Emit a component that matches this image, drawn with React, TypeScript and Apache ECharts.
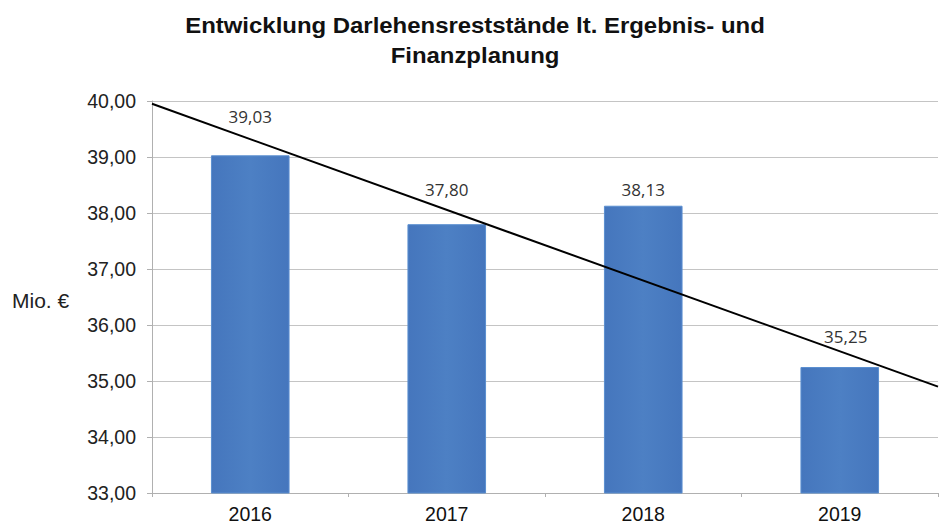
import React, { useEffect, useRef } from "react";
import * as echarts from "echarts";

const titleLines = ["Entwicklung Darlehensreststände lt. Ergebnis- und", "Finanzplanung"];
const categories = ["2016", "2017", "2018", "2019"];
const values = [39.03, 37.8, 38.13, 35.25];
// trend line: value at left edge and right edge of plot
const trendX = [0, 4];
const trendY = [39.95, 34.9];
const yMin = 33;
const yMax = 40;
const yInterval = 1;
const yAxisName = "Mio. €";

const fmt = (v: number) => v.toFixed(2).replace(".", ",");
const FONT = "Liberation Sans, Arial, sans-serif";

export default function App() {
  const ref = useRef<HTMLDivElement>(null);
  useEffect(() => {
    if (!ref.current) return;
    const chart = echarts.init(ref.current, undefined, { renderer: "svg" });
    const labelDist = [30, 26, 8, 22];
    chart.setOption({
      animation: false,
      backgroundColor: "#ffffff",
      graphic: [
        {
          type: "text",
          x: 475,
          y: 25,
          scaleX: 1.14,
          scaleY: 1.03,
          style: {
            text: titleLines[0],
            fontFamily: FONT,
            fontWeight: "bold",
            fontSize: 21,
            fill: "#111",
            align: "center",
            verticalAlign: "middle",
          },
        },
        {
          type: "text",
          x: 475,
          y: 55,
          scaleX: 1.14,
          scaleY: 1.03,
          style: {
            text: titleLines[1],
            fontFamily: FONT,
            fontWeight: "bold",
            fontSize: 21,
            fill: "#111",
            align: "center",
            verticalAlign: "middle",
          },
        },
        {
          type: "text",
          x: 12,
          y: 300,
          style: {
            text: yAxisName,
            fontFamily: FONT,
            fontSize: 21,
            fill: "#222",
            align: "left",
            verticalAlign: "middle",
          },
        },
      ],
      grid: { left: 152, right: 9, top: 101, bottom: 31 },
      xAxis: [
        {
          type: "category",
          data: categories,
          axisLine: { show: true, lineStyle: { color: "#b0b0b0", width: 1 } },
          axisTick: { show: true, length: 4, lineStyle: { color: "#b0b0b0" } },
          axisLabel: {
            fontFamily: FONT,
            fontSize: 19.5,
            color: "#111",
            margin: 11,
          },
        },
        {
          type: "value",
          min: 0,
          max: 4,
          show: false,
        },
      ],
      yAxis: {
        type: "value",
        min: yMin,
        max: yMax,
        interval: yInterval,
        axisLine: { show: true, lineStyle: { color: "#b0b0b0", width: 1 } },
        axisTick: { show: true, length: 5, lineStyle: { color: "#b0b0b0" } },
        splitLine: { lineStyle: { color: "#c4c4c4", width: 1 } },
        axisLabel: {
          formatter: (v: number) => fmt(v),
          fontFamily: FONT,
          fontSize: 19.5,
          color: "#222",
          margin: 16,
        },
      },
      series: [
        {
          type: "bar",
          xAxisIndex: 0,
          barWidth: "40%",
          data: values.map((v, i) => ({
            value: v,
            label: { distance: labelDist[i], offset: i === 3 ? [6, 0] : [0, 0] },
          })),
          itemStyle: {
            color: {
              type: "linear",
              x: 0,
              y: 0,
              x2: 1,
              y2: 0,
              colorStops: [
                { offset: 0, color: "#4576bd" },
                { offset: 0.5, color: "#4d80c4" },
                { offset: 1, color: "#4576bd" },
              ],
            },
            borderColor: "#5b8fd0",
            borderWidth: 1,
          },
          label: {
            show: true,
            position: "top",
            formatter: (p: any) => fmt(p.value),
            fontFamily: "Open Sans, Liberation Sans, sans-serif",
            fontSize: 17,
            color: "#333",
          },
        },
        {
          type: "line",
          xAxisIndex: 1,
          data: trendX.map((x, i) => [x, trendY[i]]),
          symbol: "none",
          lineStyle: { color: "#000", width: 2 },
          z: 5,
        },
      ],
    });
    return () => chart.dispose();
  }, []);
  return (
    <div
      ref={ref}
      style={{ position: "fixed", left: 0, top: 0, width: 947, height: 524 }}
    />
  );
}
